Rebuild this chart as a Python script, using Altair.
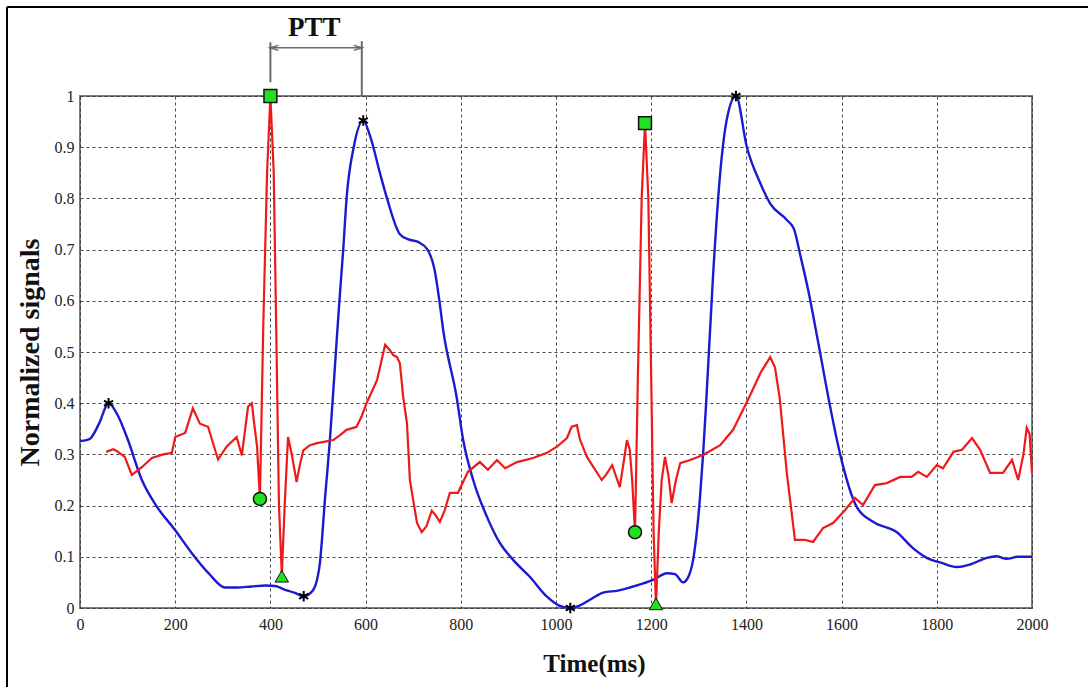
import altair as alt
import pandas as pd

# ---- PPG (blue) signal ----
ppg_t = [0, 20, 40, 60, 80, 100, 130, 160, 200, 235, 270, 305, 330, 360, 390, 410, 430, 450, 470,
         485, 495, 504, 515, 525, 536, 545, 553, 560, 575, 595, 610, 630, 645, 672, 690, 710, 730,
         745, 755, 763, 791, 805, 826, 855, 882, 910, 945, 981, 1008, 1030, 1050, 1075, 1099, 1130,
         1155, 1180, 1204, 1233, 1250, 1267, 1280, 1288, 1302, 1309, 1316, 1330, 1345, 1360, 1378,
         1401, 1429, 1450, 1485, 1500, 1513, 1530, 1550, 1576, 1597, 1632, 1667, 1716, 1750, 1779,
         1810, 1842, 1870, 1905, 1925, 1947, 1970, 2000]
ppg_v = [0.326, 0.33, 0.36, 0.40, 0.375, 0.33, 0.25, 0.20, 0.152, 0.107, 0.068, 0.040, 0.040, 0.042,
         0.044, 0.043, 0.036, 0.030, 0.023, 0.03, 0.045, 0.088, 0.217, 0.328, 0.478, 0.60, 0.70, 0.80,
         0.90, 0.952, 0.92, 0.85, 0.80, 0.73, 0.72, 0.715, 0.70, 0.66, 0.60, 0.543, 0.413, 0.328, 0.25,
         0.178, 0.127, 0.094, 0.061, 0.022, 0.004, 0.0, 0.005, 0.018, 0.030, 0.034, 0.040, 0.047,
         0.055, 0.068, 0.066, 0.050, 0.065, 0.094, 0.21, 0.30, 0.41, 0.65, 0.85, 0.96, 1.0, 0.90,
         0.83, 0.79, 0.758, 0.74, 0.69, 0.62, 0.523, 0.393, 0.30, 0.197, 0.168, 0.148, 0.117, 0.098,
         0.088, 0.080, 0.085, 0.098, 0.101, 0.096, 0.100, 0.100]

# ---- ECG (red) signal ----
ecg_t = [55, 70, 80, 94, 109, 130, 151, 175, 193, 200, 221, 237, 252, 269, 290, 308, 329, 340, 353,
         361, 366, 372, 378, 385, 393, 400, 407, 413, 418, 424, 430, 437, 445, 455, 462, 469, 483,
         498, 515, 532, 547, 560, 581, 592, 602, 624, 641, 650, 658, 666, 672, 679, 687, 693, 708,
         718, 728, 739, 748, 756, 766, 777, 794, 815, 840, 857, 876, 893, 918, 952, 981, 1002, 1023,
         1033, 1044, 1050, 1065, 1096, 1105, 1118, 1134, 1143, 1149, 1155, 1160, 1166, 1172, 1180,
         1187, 1194, 1200, 1205, 1210, 1216, 1222, 1229, 1236, 1243, 1252, 1261, 1282, 1309, 1345,
         1372, 1393, 1410, 1430, 1450, 1460, 1470, 1485, 1502, 1523, 1540, 1561, 1582, 1607, 1628,
         1645, 1670, 1695, 1723, 1747, 1761, 1779, 1800, 1813, 1835, 1853, 1874, 1891, 1912, 1939,
         1958, 1971, 1982, 1989, 1995, 2000]
ecg_v = [0.305, 0.31, 0.305, 0.295, 0.26, 0.275, 0.293, 0.300, 0.303, 0.334, 0.342, 0.39, 0.36,
         0.354, 0.29, 0.315, 0.334, 0.298, 0.393, 0.40, 0.36, 0.315, 0.213, 0.55, 0.85, 1.0, 0.85,
         0.5, 0.2, 0.065, 0.2, 0.334, 0.30, 0.246, 0.28, 0.308, 0.318, 0.322, 0.325, 0.328, 0.338,
         0.348, 0.354, 0.375, 0.40, 0.445, 0.514, 0.505, 0.494, 0.49, 0.478, 0.412, 0.36, 0.25,
         0.166, 0.148, 0.16, 0.19, 0.18, 0.168, 0.19, 0.225, 0.225, 0.266, 0.285, 0.27, 0.289, 0.273,
         0.285, 0.293, 0.303, 0.315, 0.332, 0.354, 0.357, 0.33, 0.295, 0.25, 0.26, 0.279, 0.236,
         0.29, 0.328, 0.309, 0.25, 0.148, 0.45, 0.8, 0.947, 0.8, 0.45, 0.15, 0.005, 0.15, 0.25,
         0.295, 0.26, 0.205, 0.25, 0.283, 0.289, 0.299, 0.318, 0.348, 0.387, 0.42, 0.46, 0.49, 0.47,
         0.41, 0.263, 0.133, 0.133, 0.129, 0.156, 0.166, 0.191, 0.215, 0.201, 0.24, 0.244, 0.256,
         0.256, 0.266, 0.256, 0.279, 0.273, 0.305, 0.309, 0.332, 0.309, 0.264, 0.264, 0.289, 0.25,
         0.30, 0.352, 0.34, 0.264]

# ---- fiducial markers ----
square_t = [400, 1187]
square_v = [1.0, 0.947]
circle_t = [378, 1166]
circle_v = [0.213, 0.148]
tri_t = [424, 1210]
tri_v = [0.062, 0.008]
star_t = [60, 470, 595, 1030, 1378]
star_v = [0.40, 0.023, 0.952, 0.0, 1.0]

# ---- PTT annotation (data coordinates) ----
ptt_start = 400
ptt_end = 592

x_ticks = [0, 200, 400, 600, 800, 1000, 1200, 1400, 1600, 1800, 2000]
y_ticks = [0, 0.1, 0.2, 0.3, 0.4, 0.5, 0.6, 0.7, 0.8, 0.9, 1.0]

FONT = "Liberation Serif"

ppg = pd.DataFrame({"t": ppg_t, "v": ppg_v})
ecg = pd.DataFrame({"t": ecg_t, "v": ecg_v})
sq = pd.DataFrame({"t": square_t, "v": square_v})
ci = pd.DataFrame({"t": circle_t, "v": circle_v})
tr = pd.DataFrame({"t": tri_t, "v": tri_v})
st = pd.DataFrame({"t": star_t, "v": star_v})

xs = alt.Scale(domain=[0, 2000], nice=False)
ys = alt.Scale(domain=[0, 1], nice=False)

X = alt.X("t:Q", scale=xs,
          axis=alt.Axis(values=x_ticks, format="d", title="Time(ms)", titleX=514, titleY=55,
                        titleBaseline="middle", titleAlign="center", labelFlush=False))
Y = alt.Y("v:Q", scale=ys,
          axis=alt.Axis(values=y_ticks, format="~g", title="Normalized signals", titleX=-50,
                        titleY=256, titleAngle=270, titleBaseline="middle", titleAlign="center",
                        labelFlush=False))

blue = alt.Chart(ppg).mark_line(color="#1a1ad0", strokeWidth=2.4, interpolate="monotone").encode(x=X, y=Y)
red = alt.Chart(ecg).mark_line(color="#ee1a1a", strokeWidth=2.2).encode(x="t:Q", y="v:Q")

green = "#22e022"
m_sq = alt.Chart(sq).mark_point(shape="square", filled=True, fill=green, stroke="#111",
                                strokeWidth=1.5, size=165, opacity=1).encode(x="t:Q", y="v:Q")
m_ci = alt.Chart(ci).mark_point(shape="circle", filled=True, fill=green, stroke="#111",
                                strokeWidth=1.5, size=170, opacity=1).encode(x="t:Q", y="v:Q")
m_tr = alt.Chart(tr).mark_point(shape="triangle-up", filled=True, fill=green, stroke="#111",
                                strokeWidth=1, size=180, opacity=1).encode(x="t:Q", y="v:Q")
asterisk = "M0,-1L0,1M-0.87,-0.5L0.87,0.5M-0.87,0.5L0.87,-0.5"
m_st = alt.Chart(st).mark_point(shape=asterisk, filled=False, stroke="#000", strokeWidth=2,
                                size=110, opacity=1).encode(x="t:Q", y="v:Q")

# PTT annotation
ann_color = "#6a6a6a"
vlines = pd.DataFrame({"t": [ptt_start, ptt_end], "v1": [1.027, 1.0], "v2": [1.105, 1.107]})
ann_v = alt.Chart(vlines).mark_rule(color=ann_color, strokeWidth=2).encode(
    x="t:Q", y="v1:Q", y2="v2:Q")
hline = pd.DataFrame({"t1": [ptt_start + 3], "t2": [ptt_end - 3], "v": [1.094]})
ann_h = alt.Chart(hline).mark_rule(color=ann_color, strokeWidth=1.5).encode(
    x="t1:Q", x2="t2:Q", y="v:Q")
heads = pd.DataFrame({"t": [ptt_start + 8, ptt_end - 8], "v": [1.094, 1.094],
                      "dir": ["l", "r"]})
left_head = alt.Chart(heads[heads.dir == "l"]).mark_point(
    shape="M1,-0.6L-1,0L1,0.6", filled=False, stroke=ann_color, strokeWidth=1.5, size=70,
    opacity=1).encode(x="t:Q", y="v:Q")
right_head = alt.Chart(heads[heads.dir == "r"]).mark_point(
    shape="M-1,-0.6L1,0L-1,0.6", filled=False, stroke=ann_color, strokeWidth=1.5, size=70,
    opacity=1).encode(x="t:Q", y="v:Q")
ptt_lbl = pd.DataFrame({"t": [(ptt_start + ptt_end) / 2 - 4], "v": [1.133], "s": ["PTT"]})
ann_t = alt.Chart(ptt_lbl).mark_text(font=FONT, fontWeight="bold", fontSize=27,
                                     color="#111", baseline="middle").encode(
    x="t:Q", y="v:Q", text="s:N")

# outer frame (top and left edges)
frame_top = alt.Chart(pd.DataFrame({"a": [0]})).mark_rule(color="#000", strokeWidth=2).encode(
    x=alt.value(-73), x2=alt.value(1010), y=alt.value(-89))
frame_left = alt.Chart(pd.DataFrame({"a": [0]})).mark_rule(color="#000", strokeWidth=2).encode(
    x=alt.value(-73), y=alt.value(-89), y2=alt.value(600))

chart = alt.layer(
    blue, red, m_st, m_sq, m_ci, m_tr, ann_v, ann_h, left_head, right_head, ann_t,
    frame_top, frame_left
).properties(
    width=952, height=512,
    padding={"left": 80, "top": 96, "right": 56, "bottom": 79},
    autosize=alt.AutoSizeParams(type="none"),
    background="white",
).configure_view(
    stroke="#7a7a7a", strokeWidth=2
).configure_axis(
    grid=True, gridColor="#333", gridDash=[3, 3], gridWidth=1, gridOpacity=0.9,
    domain=False, ticks=False,
    labelFont=FONT, labelFontSize=16, labelColor="#222", labelPadding=6,
    titleFont=FONT, titleFontWeight="bold", titleColor="#111",
).configure_axisX(
    titleFontSize=25, labelPadding=8
).configure_axisY(
    titleFontSize=28
)

chart.save("out.html", embed_options={"renderer": "svg", "actions": False})
